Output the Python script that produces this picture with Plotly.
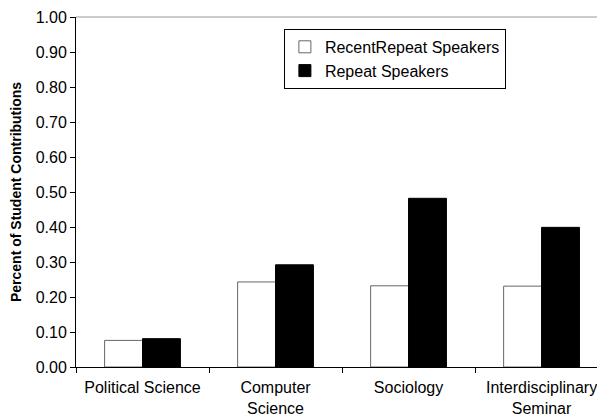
import plotly.graph_objects as go

categories = ["Political Science", "Computer<br>Science", "Sociology", "Interdisciplinary<br>Seminar"]
recent_repeat = [0.076, 0.243, 0.232, 0.231]
repeat = [0.081, 0.292, 0.482, 0.399]
series_names = ["RecentRepeat Speakers", "Repeat Speakers"]
y_ticks = [0.0, 0.1, 0.2, 0.3, 0.4, 0.5, 0.6, 0.7, 0.8, 0.9, 1.0]

FONT = "Liberation Sans, Arial, sans-serif"

fig = go.Figure()
fig.add_trace(go.Bar(
    x=categories, y=recent_repeat, name=series_names[0],
    marker=dict(color="white", line=dict(color="#666666", width=1)),
))
fig.add_trace(go.Bar(
    x=categories, y=repeat, name=series_names[1],
    marker=dict(color="black", line=dict(color="black", width=1)),
))

# page body has an 8px default margin, so the figure is sized to fit the window
fig.update_layout(
    width=597, height=411,
    margin=dict(l=68, r=0, t=9, b=52, autoexpand=False),
    paper_bgcolor="white", plot_bgcolor="white",
    barmode="group", bargap=0.43, bargroupgap=0,
    font=dict(family=FONT, size=16, color="black"),
    legend=dict(
        x=0.393, y=0.966, xanchor="left", yanchor="top",
        bgcolor="white", bordercolor="black", borderwidth=1,
        font=dict(family=FONT, size=16, color="black"),
        tracegroupgap=0, itemwidth=30,
    ),
    showlegend=True,
)

fig.update_xaxes(
    type="category", range=[-0.5, 3.477], automargin=False,
    showline=True, linecolor="black", linewidth=1,
    ticks="outside", tickson="boundaries", ticklen=5, tickcolor="black",
    showgrid=False, zeroline=False, ticklabelstandoff=6,
    tickfont=dict(family=FONT, size=16, color="black"),
)
fig.update_yaxes(
    range=[0, 1], tickvals=y_ticks, tickformat=".2f", automargin=False,
    showline=True, linecolor="black", linewidth=1,
    ticks="outside", ticklen=5, tickcolor="black",
    showgrid=False, zeroline=False,
    tickfont=dict(family=FONT, size=16, color="black"),
    title=dict(text="<b>Percent of Student Contributions</b>",
               font=dict(family=FONT, size=14, color="black"), standoff=11),
)

fig.add_shape(type="line", xref="paper", yref="paper", x0=0, x1=1, y0=1, y1=1,
              line=dict(color="#999999", width=1))

fig.write_html("out.html")
